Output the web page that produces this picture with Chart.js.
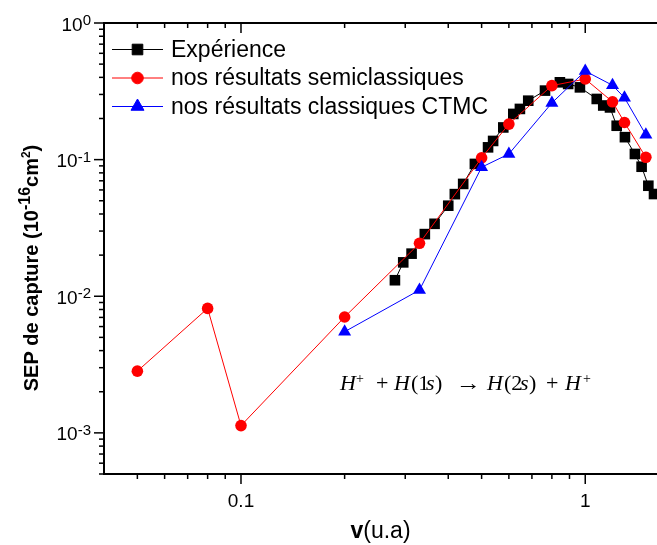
<!DOCTYPE html>
<html>
<head>
<meta charset="utf-8">
<script src="https://cdn.jsdelivr.net/npm/chart.js@4.4.0/dist/chart.umd.min.js"></script>
<style>
  html, body { margin: 0; padding: 0; background: #fff; }
  #wrap { width: 657px; height: 545px; position: relative; }
</style>
</head>
<body>
<div id="wrap"><canvas id="resultChart"></canvas></div>
<script>
// values (v in u.a, sigma in 1e-16 cm^2)
const expV = [0.28, 0.296, 0.313, 0.342, 0.365, 0.40, 0.418, 0.442, 0.478, 0.522, 0.54, 0.578, 0.618, 0.646, 0.683,
              0.764, 0.844, 0.892, 0.965, 1.08, 1.128, 1.18, 1.234, 1.304, 1.394, 1.458, 1.525, 1.584];
const expSigma = [0.0131, 0.0177, 0.0205, 0.0285, 0.0339, 0.046, 0.0559, 0.0664, 0.093, 0.123, 0.137, 0.172, 0.216, 0.235, 0.27,
                  0.32, 0.368, 0.358, 0.338, 0.278, 0.249, 0.241, 0.177, 0.146, 0.11, 0.0887, 0.0644, 0.056];

const semiV = [0.05, 0.08, 0.1, 0.2, 0.33, 0.5, 0.6, 0.8, 1.0, 1.2, 1.3, 1.5];
const semiSigma = [0.00283, 0.00815, 0.00113, 0.00705, 0.0244, 0.103, 0.182, 0.348, 0.389, 0.265, 0.187, 0.104];

const ctmcV = [0.2, 0.33, 0.5, 0.6, 0.8, 1.0, 1.2, 1.3, 1.5];
const ctmcSigma = [0.0055, 0.0111, 0.088, 0.11, 0.26, 0.445, 0.35, 0.284, 0.152];

const xTickLabels = [0.1, 1];
const yTickExponents = [0, -1, -2, -3];
const seriesNames = ['Expérience', 'nos résultats semiclassiques', 'nos résultats classiques CTMC'];

const SANS = "'Liberation Sans', Arial, sans-serif";
const SERIF = "'Liberation Serif', 'Times New Roman', serif";

function toPoints(xs, ys) {
  return xs.map((x, i) => ({ x: x, y: ys[i] }));
}

// tick marks, tick labels with exponents, axis titles, legend and the reaction text
const decor = {
  id: 'decor',
  afterDraw(chart) {
    const ctx = chart.ctx;
    const a = chart.chartArea;
    const xs = chart.scales.x;
    const ys = chart.scales.y;
    ctx.save();
    ctx.strokeStyle = '#000';
    ctx.fillStyle = '#000';
    ctx.lineWidth = 1.5;

    const seg = (x1, y1, x2, y2) => {
      ctx.beginPath(); ctx.moveTo(x1, y1); ctx.lineTo(x2, y2); ctx.stroke();
    };

    // x ticks, bottom (outward) and top (inward)
    for (let e = -2; e <= 0; e++) {
      for (let m = 1; m <= 9; m++) {
        const v = m * Math.pow(10, e);
        if (v < xs.min * 1.001 || v > xs.max) continue;
        const px = xs.getPixelForValue(v);
        const len = m === 1 ? 10 : 5;
        seg(px, a.bottom, px, a.bottom + len);
        seg(px, a.top, px, a.top + len);
      }
    }
    // y ticks, left (outward)
    for (let e = -4; e <= 0; e++) {
      for (let m = 1; m <= 9; m++) {
        const v = m * Math.pow(10, e);
        if (v < ys.min * 0.999 || v > ys.max * 1.001) continue;
        const py = ys.getPixelForValue(v);
        const len = m === 1 ? 10 : 5;
        seg(a.left - len, py, a.left, py);
      }
    }

    // y tick labels 10^n
    ctx.textBaseline = 'alphabetic';
    ctx.textAlign = 'left';
    yTickExponents.forEach(ex => {
      const py = ys.getPixelForValue(Math.pow(10, ex));
      const sup = String(ex);
      ctx.font = '15px ' + SANS;
      const supW = ctx.measureText(sup).width;
      ctx.font = '19px ' + SANS;
      const baseW = ctx.measureText('10').width;
      const right = a.left - 13;
      ctx.fillText('10', right - supW - baseW, py + 7.5);
      ctx.font = '15px ' + SANS;
      ctx.fillText(sup, right - supW, py + 2);
    });

    // y title, rotated
    const yParts = [
      ['SEP de capture (10', 'bold 20px ' + SANS, 0],
      ['-16', 'bold 16px ' + SANS, 8],
      ['cm', 'bold 20px ' + SANS, 0],
      ['2', 'bold 12px ' + SANS, 8],
      [')', 'bold 20px ' + SANS, 0]
    ];
    let total = 0;
    yParts.forEach(p => { ctx.font = p[1]; total += ctx.measureText(p[0]).width; });
    ctx.save();
    ctx.translate(38, 268);
    ctx.rotate(-Math.PI / 2);
    let cx = -total / 2;
    yParts.forEach(p => {
      ctx.font = p[1];
      ctx.fillText(p[0], cx, -p[2]);
      cx += ctx.measureText(p[0]).width;
    });
    ctx.restore();

    // x title
    const xParts = [['v', 'bold 23px ' + SANS], ['(u.a)', '23px ' + SANS]];
    total = 0;
    xParts.forEach(p => { ctx.font = p[1]; total += ctx.measureText(p[0]).width; });
    cx = (a.left + a.right) / 2 - total / 2;
    xParts.forEach(p => {
      ctx.font = p[1];
      ctx.fillText(p[0], cx, 538);
      cx += ctx.measureText(p[0]).width;
    });

    // legend inside the plot
    const ds = chart.data.datasets;
    ctx.textBaseline = 'middle';
    ds.forEach((d, i) => {
      const ly = 49.5 + i * 28.5;
      ctx.strokeStyle = d.borderColor;
      ctx.lineWidth = 1;
      seg(112, ly, 163, ly);
      ctx.fillStyle = d.pointBackgroundColor;
      Chart.helpers.drawPoint(ctx, { pointStyle: d.pointStyle, radius: d.pointRadius, rotation: 0, borderWidth: 1 }, 137.5, ly);
      ctx.fillStyle = '#000';
      ctx.font = '23px ' + SANS;
      ctx.fillText(seriesNames[i], 171, ly + 1);
    });

    // reaction H+ + H(1s) -> H(2s) + H+ ; pieces placed from the left end of the text
    const eqX = 340, eqY = 390;
    const eq = [
      ['H', 'i', 0], ['+', 's', 16], ['+', 'r', 36], ['H', 'i', 54], ['(1', 'r', 71], ['s', 'i', 86], [')', 'r', 95],
      ['\u2192', 'a', 116], ['H', 'i', 147], ['(2', 'r', 164], ['s', 'i', 180], [')', 'r', 189], ['+', 'r', 206],
      ['H', 'i', 225], ['+', 's', 243]
    ];
    ctx.textBaseline = 'alphabetic';
    eq.forEach(p => {
      const px = eqX + p[2];
      if (p[1] === 'a') {
        ctx.font = '22px ' + SERIF;
        const w = ctx.measureText(p[0]).width;
        ctx.save();
        ctx.translate(px, eqY);
        ctx.scale(25 / w, 1);
        ctx.fillText(p[0], 0, 0);
        ctx.restore();
        return;
      }
      let dy = 0;
      if (p[1] === 'i') ctx.font = 'italic 22px ' + SERIF;
      else if (p[1] === 's') { ctx.font = '14px ' + SERIF; dy = -7; }
      else ctx.font = '22px ' + SERIF;
      ctx.fillText(p[0], px, eqY + dy);
    });

    ctx.restore();
  }
};

new Chart(document.getElementById('resultChart'), {
  type: 'scatter',
  data: {
    datasets: [
      {
        label: seriesNames[0],
        data: toPoints(expV, expSigma),
        showLine: true,
        borderColor: '#000',
        backgroundColor: '#000',
        pointBackgroundColor: '#000',
        borderWidth: 1,
        pointStyle: 'rect',
        pointRadius: 7.5,
        pointBorderWidth: 0,
        order: 3
      },
      {
        label: seriesNames[1],
        data: toPoints(semiV, semiSigma),
        showLine: true,
        borderColor: '#ff0000',
        backgroundColor: '#ff0000',
        pointBackgroundColor: '#ff0000',
        borderWidth: 1,
        pointStyle: 'circle',
        pointRadius: 5.8,
        pointBorderWidth: 0,
        order: 2
      },
      {
        label: seriesNames[2],
        data: toPoints(ctmcV, ctmcSigma),
        showLine: true,
        borderColor: '#0000ff',
        backgroundColor: '#0000ff',
        pointBackgroundColor: '#0000ff',
        borderWidth: 1,
        pointStyle: 'triangle',
        pointRadius: 7.5,
        pointBorderWidth: 0,
        order: 1
      }
    ]
  },
  options: {
    responsive: true,
    maintainAspectRatio: false,
    animation: false,
    layout: { padding: 0, autoPadding: false },
    plugins: {
      legend: { display: false },
      tooltip: { enabled: false }
    },
    scales: {
      x: {
        type: 'logarithmic',
        position: 'bottom',
        min: 0.04,
        max: 1.616,
        grid: { display: false, drawTicks: false },
        border: { display: true, color: '#000', width: 2 },
        ticks: {
          autoSkip: false,
          maxRotation: 0,
          padding: 16,
          color: '#000',
          font: { family: SANS, size: 19 },
          callback: (value) => {
            const hit = xTickLabels.find(t => Math.abs(value - t) < t * 1e-6);
            return hit === undefined ? '' : String(hit);
          }
        },
        afterFit: (scale) => { scale.height = 71; scale.paddingLeft = 0; scale.paddingRight = 0; }
      },
      x2: {
        type: 'logarithmic',
        position: 'top',
        min: 0.04,
        max: 1.616,
        grid: { display: false, drawTicks: false },
        border: { display: true, color: '#000', width: 2 },
        ticks: { display: false },
        afterFit: (scale) => { scale.height = 23; scale.paddingLeft = 0; scale.paddingRight = 0; }
      },
      y: {
        type: 'logarithmic',
        position: 'left',
        min: 0.0005,
        max: 1,
        grid: { display: false, drawTicks: false },
        border: { display: true, color: '#000', width: 2 },
        ticks: { display: false },
        afterFit: (scale) => { scale.width = 104; scale.paddingTop = 0; scale.paddingBottom = 0; }
      }
    }
  },
  plugins: [decor]
});
</script>
</body>
</html>
